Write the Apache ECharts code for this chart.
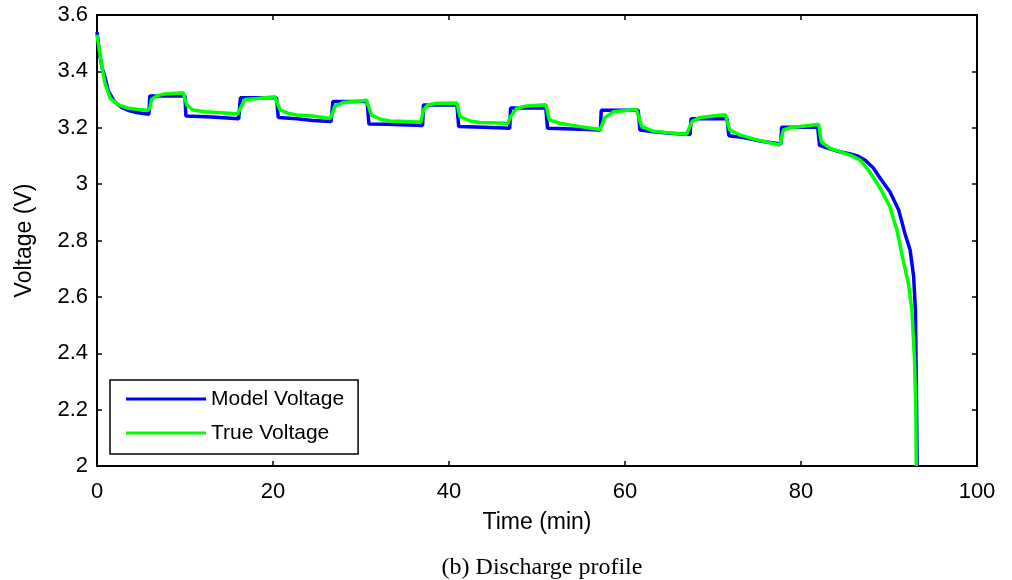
<!DOCTYPE html>
<html>
<head>
<meta charset="utf-8">
<script src="https://cdn.jsdelivr.net/npm/echarts@6/dist/echarts.min.js"></script>
<style>html,body{margin:0;padding:0;background:#fff;}#chart{width:1012px;height:580px;}</style>
</head>
<body>
<div id="chart"></div>
<script>
// Time (min), Voltage (V)
const seriesNames = ['Model Voltage', 'True Voltage'];
const xTicks = [0, 20, 40, 60, 80, 100];
const yTicks = [2, 2.2, 2.4, 2.6, 2.8, 3, 3.2, 3.4, 3.6];

const modelVoltage = [
  [0,3.54],[0.3,3.46],[0.6,3.41],[0.9,3.38],[1.3,3.33],[2,3.292],[2.8,3.272],[3.5,3.262],[4.5,3.254],[5.9,3.248],
  [6.0,3.313],[10.0,3.313],
  [10.1,3.242],[13,3.238],[16.1,3.232],
  [16.3,3.306],[20.4,3.306],
  [20.6,3.236],[22.7,3.232],[24.5,3.226],[26.6,3.222],
  [26.8,3.293],[30.7,3.293],
  [30.9,3.213],[33,3.212],[37.0,3.208],
  [37.1,3.281],[40.9,3.281],
  [41.1,3.204],[44,3.202],[46.9,3.198],
  [47.0,3.270],[51.0,3.270],
  [51.2,3.198],[54,3.196],[57.2,3.192],
  [57.3,3.262],[61.5,3.262],
  [61.7,3.192],[63.5,3.185],[65.5,3.18],[67.4,3.176],
  [67.5,3.232],[71.6,3.232],
  [71.8,3.172],[73.5,3.165],[75.5,3.152],[77.7,3.142],
  [77.8,3.202],[81.9,3.202],
  [82.1,3.138],[83.3,3.125],[84.4,3.115],[85.5,3.108],[86.5,3.099],[87.3,3.085],[88.2,3.058],[89.0,3.021],[90.1,2.973],
  [91.1,2.908],[91.8,2.826],[92.4,2.766],[92.8,2.672],[93.0,2.553],[93.1,2.317],[93.2,2.0]
];

const trueVoltage = [
  [0,3.53],[0.5,3.428],[0.9,3.358],[1.5,3.305],[2.4,3.281],[3.6,3.269],[4.7,3.265],[5.8,3.262],
  [6.0,3.27],[6.2,3.30],[6.8,3.313],[7.7,3.32],[9.8,3.324],[10.0,3.328],
  [10.2,3.281],[10.9,3.263],[12.3,3.257],[14.2,3.253],[16.0,3.249],
  [16.3,3.27],[16.8,3.30],[18,3.303],[20.2,3.310],[20.4,3.314],
  [20.8,3.263],[21.7,3.252],[22.7,3.245],[24.5,3.242],[26.5,3.233],
  [26.8,3.255],[27.0,3.275],[28.0,3.290],[30.3,3.296],[30.6,3.299],
  [31.2,3.245],[32.2,3.230],[33.3,3.224],[35.9,3.221],[36.8,3.220],
  [37.1,3.263],[37.6,3.281],[38.6,3.287],[40.9,3.288],
  [41.25,3.239],[42.4,3.224],[43.5,3.219],[46.7,3.216],
  [47.0,3.24],[47.7,3.269],[48.8,3.277],[51.0,3.282],
  [51.4,3.228],[52.6,3.216],[54.9,3.204],[57.2,3.194],
  [57.7,3.236],[58.7,3.257],[61.3,3.265],
  [61.9,3.204],[63.2,3.188],[64.7,3.183],[67.0,3.177],
  [67.6,3.222],[68.5,3.236],[70.0,3.242],[71.4,3.246],
  [71.9,3.192],[73.1,3.174],[75.0,3.157],[77.6,3.139],
  [78.0,3.192],[78.8,3.200],[81.4,3.210],[82.0,3.212],
  [82.3,3.150],[83.3,3.127],[84.4,3.115],[85.6,3.103],[86.7,3.086],[87.8,3.044],[89.0,2.985],
  [90.1,2.920],[90.9,2.837],[91.6,2.731],[92.2,2.648],[92.6,2.553],[92.9,2.376],[93.05,2.199],[93.1,2.0]
];

const sans = 'Arial, "Liberation Sans", Helvetica, sans-serif';
const chart = echarts.init(document.getElementById('chart'), null, {renderer: 'canvas'});

const xMin = xTicks[0], xMax = xTicks[xTicks.length - 1], xInt = xTicks[1] - xTicks[0];
const yMin = yTicks[0], yMax = yTicks[yTicks.length - 1];
const yInt = 0.2;

function frameAxis(extra) {
  return Object.assign({
    type: 'value',
    axisLine: {show: true, onZero: false, lineStyle: {color: '#000', width: 2}},
    axisTick: {show: true, inside: true, length: 5, lineStyle: {color: '#000', width: 1.5}},
    splitLine: {show: false}
  }, extra);
}

chart.setOption({
  backgroundColor: '#fff',
  animation: false,
  title: {
    text: '(b) Discharge profile',
    left: 537, top: 551, textAlign: 'center',
    textStyle: {fontFamily: '"Liberation Serif", "Times New Roman", serif', fontSize: 24, fontWeight: 'normal', color: '#000'}
  },
  grid: {left: 97, right: 35, top: 15, bottom: 114, containLabel: false},
  legend: {
    orient: 'vertical',
    left: 110, top: 380,
    data: seriesNames,
    icon: 'rect',
    itemWidth: 80, itemHeight: 3,
    itemGap: 12,
    padding: [8, 14, 10, 16],
    borderColor: '#000', borderWidth: 1.5,
    backgroundColor: '#fff',
    textStyle: {fontFamily: sans, fontSize: 21, color: '#000', lineHeight: 22, padding: [0, 0, 0, 0]}
  },
  xAxis: [
    frameAxis({
      position: 'bottom', min: xMin, max: xMax, interval: xInt,
      name: 'Time (min)', nameLocation: 'middle', nameGap: 45,
      nameTextStyle: {fontFamily: sans, fontSize: 23, color: '#000'},
      axisLabel: {show: true, margin: 15, fontFamily: sans, fontSize: 22, color: '#000'}
    }),
    frameAxis({position: 'top', min: xMin, max: xMax, interval: xInt, axisLabel: {show: false}})
  ],
  yAxis: [
    frameAxis({
      position: 'left', min: yMin, max: yMax, interval: yInt,
      name: 'Voltage (V)', nameLocation: 'middle', nameGap: 61, nameRotate: 90,
      nameTextStyle: {fontFamily: sans, fontSize: 23, color: '#000'},
      axisLabel: {show: true, margin: 9, fontFamily: sans, fontSize: 22, color: '#000',
        formatter: v => String(Math.round(v * 10) / 10)}
    }),
    frameAxis({position: 'right', min: yMin, max: yMax, interval: yInt, axisLabel: {show: false}})
  ],
  series: [
    {
      name: seriesNames[0], type: 'line', data: modelVoltage,
      showSymbol: false, symbol: 'none', smooth: false,
      lineStyle: {color: '#0000ff', width: 3.5}, itemStyle: {color: '#0000ff'},
      xAxisIndex: 0, yAxisIndex: 0, z: 2
    },
    {
      name: seriesNames[1], type: 'line', data: trueVoltage,
      showSymbol: false, symbol: 'none', smooth: false,
      lineStyle: {color: '#00ff00', width: 3.5}, itemStyle: {color: '#00ff00'},
      xAxisIndex: 0, yAxisIndex: 0, z: 3
    }
  ]
});
</script>
</body>
</html>
